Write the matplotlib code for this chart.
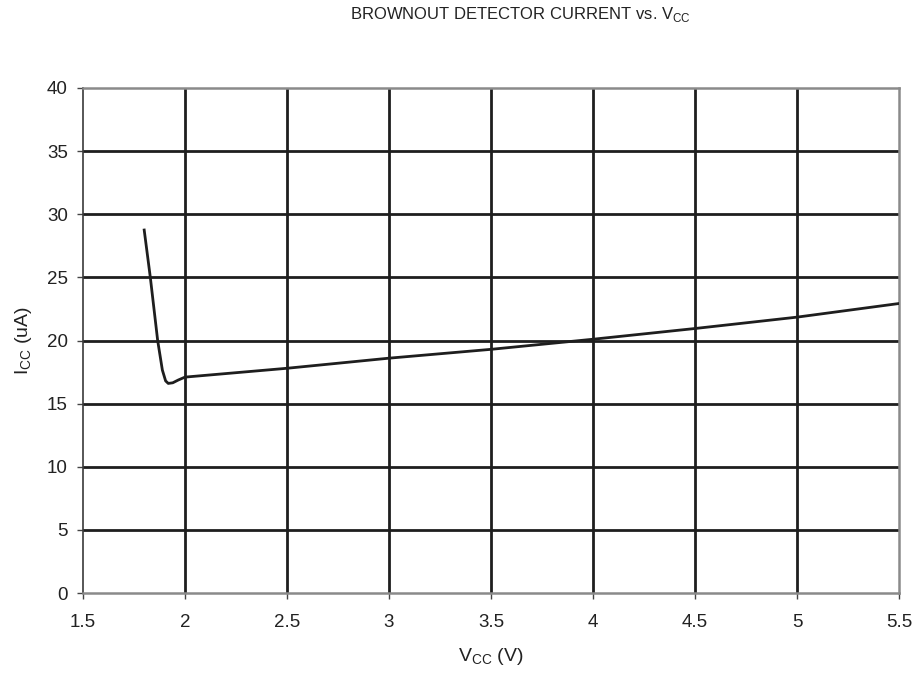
import matplotlib
matplotlib.use("Agg")
import matplotlib.pyplot as plt
import numpy as np

plt.rcParams['font.family'] = ['Liberation Sans', 'DejaVu Sans']

vcc = [1.80, 1.83, 1.866, 1.889, 1.905, 1.918, 1.94, 1.967, 2.0, 2.5, 3.0, 3.5, 4.0, 4.5, 5.0, 5.5]
icc = [28.75, 25.0, 20.0, 17.66, 16.8, 16.6, 16.65, 16.87, 17.1, 17.8, 18.6, 19.3, 20.1, 20.95, 21.85, 22.93]

xticks = [1.5, 2, 2.5, 3, 3.5, 4, 4.5, 5, 5.5]
xticklabels = ['1.5', '2', '2.5', '3', '3.5', '4', '4.5', '5', '5.5']
yticks = [0, 5, 10, 15, 20, 25, 30, 35, 40]

fig = plt.figure(figsize=(9.23, 6.73), dpi=100)
ax = fig.add_axes([83/923, 1-593/673, (899-83)/923, (593-88)/673])

grid_color = '#1e1e1e'
for x in xticks[1:-1]:
    ax.axvline(x, color=grid_color, lw=2.0, zorder=1)
for y in yticks[1:-1]:
    ax.axhline(y, color=grid_color, lw=2.0, zorder=1)

ax.plot(vcc, icc, color='#1e1e1e', lw=2.0, zorder=3)

ax.set_xlim(1.5, 5.5)
ax.set_ylim(0, 40)
ax.set_xticks(xticks)
ax.set_xticklabels(xticklabels)
ax.set_yticks(yticks)
for s in ['top', 'right', 'bottom']:
    ax.spines[s].set_color('#8a8a8a')
    ax.spines[s].set_linewidth(1.8)
ax.spines['left'].set_color('#3a3a3a')
ax.spines['left'].set_linewidth(1.2)
ax.tick_params(axis='both', direction='out', length=4, width=1, color='#444444',
               labelsize=13.5, labelcolor='#222222')
ax.tick_params(axis='x', pad=11)
ax.tick_params(axis='y', pad=7)

ax.set_xlabel('V$_{\\mathregular{CC}}$ (V)', fontsize=14, color='#222222', labelpad=11)
ax.set_ylabel('I$_{\\mathregular{CC}}$ (uA)', fontsize=14, color='#222222', labelpad=9)

fig.text(520/923, 1-15/673, 'BROWNOUT DETECTOR CURRENT vs. V$_{\\mathregular{CC}}$',
         ha='center', va='center', fontsize=12, color='#222222')

fig.savefig('out.png', dpi=100)
